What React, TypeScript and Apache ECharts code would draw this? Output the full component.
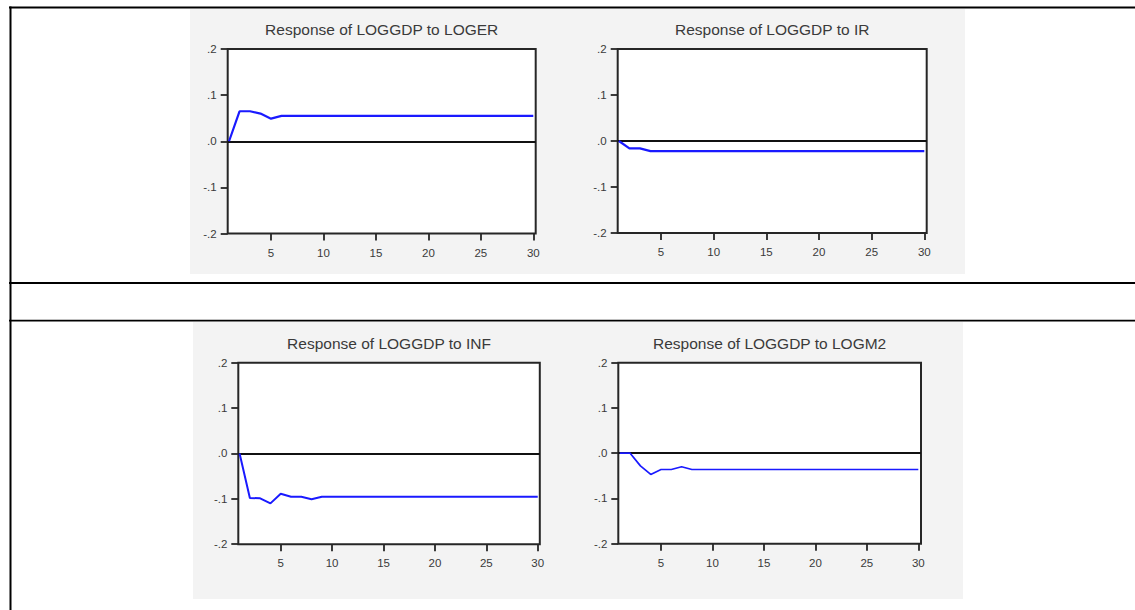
import React, { useEffect, useRef } from "react";
import * as echarts from "echarts";

const periods = [1, 2, 3, 4, 5, 6, 7, 8, 9, 10, 11, 12, 13, 14, 15, 16, 17, 18, 19, 20, 21, 22, 23, 24, 25, 26, 27, 28, 29, 30];

const respLOGER = [0, 0.065, 0.065, 0.06, 0.049, 0.055, 0.055, 0.055, 0.055, 0.055, 0.055, 0.055, 0.055, 0.055, 0.055, 0.055, 0.055, 0.055, 0.055, 0.055, 0.055, 0.055, 0.055, 0.055, 0.055, 0.055, 0.055, 0.055, 0.055, 0.055];
const respIR = [0, -0.016, -0.016, -0.022, -0.022, -0.022, -0.022, -0.022, -0.022, -0.022, -0.022, -0.022, -0.022, -0.022, -0.022, -0.022, -0.022, -0.022, -0.022, -0.022, -0.022, -0.022, -0.022, -0.022, -0.022, -0.022, -0.022, -0.022, -0.022, -0.022];
const respINF = [0, -0.098, -0.099, -0.11, -0.089, -0.0955, -0.0955, -0.101, -0.0955, -0.0955, -0.0955, -0.0955, -0.0955, -0.0955, -0.0955, -0.0955, -0.0955, -0.0955, -0.0955, -0.0955, -0.0955, -0.0955, -0.0955, -0.0955, -0.0955, -0.0955, -0.0955, -0.0955, -0.0955, -0.0955];
const respLOGM2 = [0, 0, -0.028, -0.047, -0.036, -0.036, -0.03, -0.036, -0.036, -0.036, -0.036, -0.036, -0.036, -0.036, -0.036, -0.036, -0.036, -0.036, -0.036, -0.036, -0.036, -0.036, -0.036, -0.036, -0.036, -0.036, -0.036, -0.036, -0.036, -0.036];

const panelTitles = [
  "Response of LOGGDP to LOGER",
  "Response of LOGGDP to IR",
  "Response of LOGGDP to INF",
  "Response of LOGGDP to LOGM2",
];
const panelValues = [respLOGER, respIR, respINF, respLOGM2];

const xTickValues = [5, 10, 15, 20, 25, 30];
const yTickValues = [-0.2, -0.1, 0, 0.1, 0.2];
const yTickLabels = ["-.2", "-.1", ".0", ".1", ".2"];

const LAYOUT = [
  { grid: { left: 227.7, top: 49, width: 308, height: 184.5 }, xMin: 0.873, xMax: 30.229, box: [190, 9, 376, 265], titleY: 29, lw: 2.2 },
  { grid: { left: 617.7, top: 49, width: 309, height: 184 }, xMin: 0.889, xMax: 30.228, box: [566, 9, 399, 265], titleY: 29, lw: 2.2 },
  { grid: { left: 238.3, top: 362.7, width: 301.5, height: 181.5 }, xMin: 0.875, xMax: 30.2, box: [193, 322, 373, 277], titleY: 343, lw: 2 },
  { grid: { left: 618.3, top: 362.7, width: 302.7, height: 181 }, xMin: 0.85, xMax: 30.26, box: [566, 322, 397, 277], titleY: 343, lw: 1.7 },
];

const FONT = "'Liberation Sans', Arial, sans-serif";

export default function App() {
  const ref = useRef<HTMLDivElement>(null);

  useEffect(() => {
    if (!ref.current) return;
    const chart = echarts.init(ref.current, undefined, { renderer: "svg" });

    const grids = LAYOUT.map((p) => ({
      ...p.grid,
      show: true,
      backgroundColor: "#ffffff",
      borderColor: "#262626",
      borderWidth: 2,
      containLabel: false,
    }));

    const xAxes = LAYOUT.map((p, i) => ({
      type: "value",
      gridIndex: i,
      position: "bottom",
      min: p.xMin,
      max: p.xMax,
      axisLine: { show: false, onZero: false },
      splitLine: { show: false },
      axisTick: {
        show: true,
        customValues: xTickValues,
        length: 7,
        lineStyle: { color: "#262626", width: 1.8 },
      },
      axisLabel: {
        show: true,
        customValues: xTickValues,
        margin: 13,
        fontSize: 11.5,
        fontFamily: FONT,
        color: "#3a3a3a",
      },
    }));

    const yAxes = LAYOUT.map((p, i) => ({
      type: "value",
      gridIndex: i,
      position: "left",
      min: -0.2,
      max: 0.2,
      axisLine: { show: false, onZero: false },
      splitLine: { show: false },
      axisTick: {
        show: true,
        customValues: yTickValues,
        length: 7,
        lineStyle: { color: "#262626", width: 1.8 },
      },
      axisLabel: {
        show: true,
        customValues: yTickValues,
        margin: 11,
        fontSize: 11.5,
        fontFamily: FONT,
        color: "#3a3a3a",
        formatter: (v: number) => {
          const idx = yTickValues.findIndex((t) => Math.abs(t - v) < 1e-9);
          return idx >= 0 ? yTickLabels[idx] : "";
        },
      },
    }));

    const series = LAYOUT.map((p, i) => ({
      type: "line",
      xAxisIndex: i,
      yAxisIndex: i,
      data: periods.map((x, k) => [x, panelValues[i][k]]),
      showSymbol: false,
      symbol: "none",
      lineStyle: { color: "#1a1aff", width: p.lw },
      z: 3,
      markLine: {
        silent: true,
        symbol: ["none", "none"],
        label: { show: false },
        lineStyle: { color: "#111111", width: 1.8, type: "solid" },
        data: [{ yAxis: 0 }],
        z: 2,
      },
    }));

    const boxes = LAYOUT.map((p) => ({
      type: "rect",
      z: -10,
      silent: true,
      shape: { x: p.box[0], y: p.box[1], width: p.box[2], height: p.box[3] },
      style: { fill: "#f3f3f3" },
    }));

    const titles = LAYOUT.map((p, i) => ({
      type: "text",
      z: 10,
      silent: true,
      x: p.grid.left + p.grid.width / 2,
      y: p.titleY,
      style: {
        text: panelTitles[i],
        fontSize: 15.5,
        fontFamily: FONT,
        fill: "#3a3a3a",
        textAlign: "center",
        textVerticalAlign: "middle",
      },
    }));

    const tableLines = [
      { x1: 9, y1: 7.5, x2: 1135, y2: 7.5, w: 2 },
      { x1: 9, y1: 283, x2: 1135, y2: 283, w: 2 },
      { x1: 9, y1: 320.7, x2: 1135, y2: 320.7, w: 1.8 },
      { x1: 10.5, y1: 6.5, x2: 10.5, y2: 610, w: 2 },
    ].map((l) => ({
      type: "line",
      z: 20,
      silent: true,
      shape: { x1: l.x1, y1: l.y1, x2: l.x2, y2: l.y2 },
      style: { stroke: "#000000", lineWidth: l.w },
    }));

    chart.setOption({
      animation: false,
      backgroundColor: "#ffffff",
      grid: grids,
      xAxis: xAxes,
      yAxis: yAxes,
      series,
      graphic: [...boxes, ...titles, ...tableLines],
    } as any);

    return () => {
      chart.dispose();
    };
  }, []);

  return (
    <div
      ref={ref}
      style={{ position: "fixed", left: 0, top: 0, width: 1135, height: 610 }}
    />
  );
}
